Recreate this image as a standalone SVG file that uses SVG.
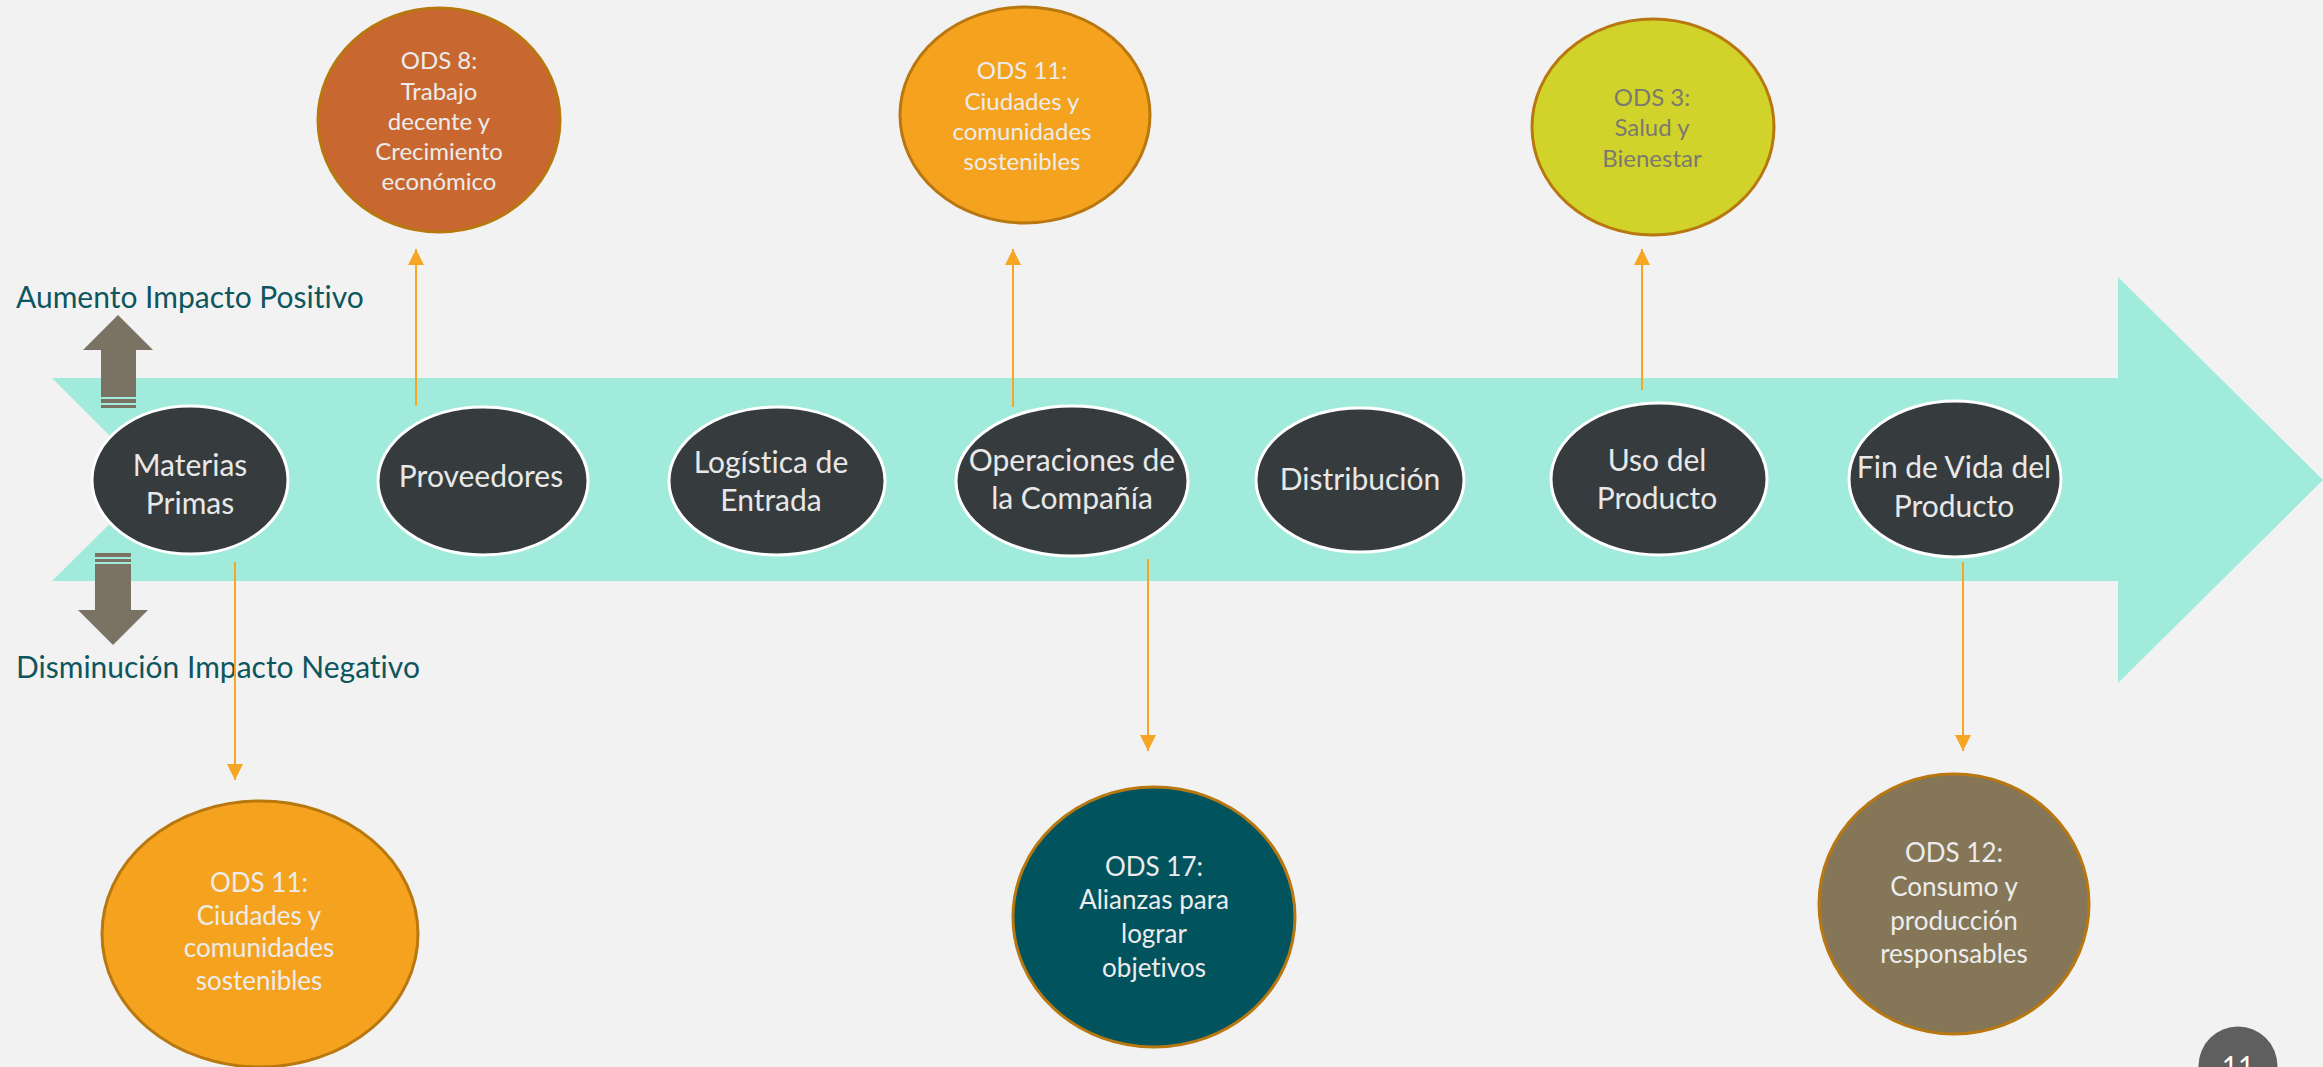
<svg xmlns="http://www.w3.org/2000/svg" width="2323" height="1067" viewBox="0 0 2323 1067">
<defs>
<style>
text{font-variant-ligatures:none;font-feature-settings:"liga" 0,"clig" 0}
.bg{fill:#f2f2f2}
.band{fill:#a1ebdc}
.step{fill:#363c3e;stroke:#ffffff;stroke-width:3}
.stept{fill:#e8e8e8;font-family:Lato,"Open Sans",sans-serif;font-size:30px;text-anchor:middle}
.ods{stroke:#b8770f;stroke-width:3}
.odst{fill:#ececec;font-family:Lato,"Open Sans",sans-serif;font-size:24px;text-anchor:middle}
.odsb{fill:#ececec;font-family:Lato,"Open Sans",sans-serif;font-size:26px;text-anchor:middle}
.lbl{fill:#0d5660;font-family:Lato,"Open Sans",sans-serif;font-size:30px}
.gray{fill:#7a7364}
.conn{stroke:#f5a623;stroke-width:2;fill:none}
</style>
<marker id="ah" viewBox="0 0 16 16" refX="16" refY="8" markerWidth="16" markerHeight="16" markerUnits="userSpaceOnUse" orient="auto">
<path d="M0,0 L16,8 L0,16 Z" fill="#f5a623"/>
</marker>
</defs>
<rect class="bg" x="0" y="0" width="2323" height="1067"/>
<g id="band">
<path class="band" d="M52,378 L2118,378 L2118,277 L2323,480 L2118,683 L2118,581 L52,581 L154,480 Z"/>
</g>
<g id="impact-up">
<path class="gray" d="M118,315 L153,350 L136,350 L136,397 L101,397 L101,350 L83,350 Z"/>
<rect class="gray" x="101" y="399" width="35" height="4"/>
<rect class="gray" x="101" y="405" width="35" height="3"/>
<text class="lbl" x="16" y="308">Aumento Impacto Positivo</text>
</g>
<g id="impact-down">
<rect class="gray" x="95" y="553" width="36" height="4"/>
<rect class="gray" x="95" y="559" width="36" height="3"/>
<path class="gray" d="M95,564 L131,564 L131,610 L148,610 L113,645 L78,610 L95,610 Z"/>
<text class="lbl" x="16" y="678">Disminución Impacto Negativo</text>
</g>
<g id="connectors">
<line class="conn" x1="416" y1="406" x2="416" y2="249" marker-end="url(#ah)"/>
<line class="conn" x1="1013" y1="407" x2="1013" y2="249" marker-end="url(#ah)"/>
<line class="conn" x1="1642" y1="390" x2="1642" y2="249" marker-end="url(#ah)"/>
<line class="conn" x1="235" y1="562" x2="235" y2="780" marker-end="url(#ah)"/>
<line class="conn" x1="1148" y1="559" x2="1148" y2="751" marker-end="url(#ah)"/>
<line class="conn" x1="1963" y1="562" x2="1963" y2="751" marker-end="url(#ah)"/>
</g>
<g id="materias-primas">
<ellipse class="step" cx="190" cy="480" rx="98" ry="74"/>
<text class="stept" x="190" y="476">Materias</text>
<text class="stept" x="190" y="514">Primas</text>
</g>
<g id="proveedores">
<ellipse class="step" cx="483" cy="481" rx="105" ry="74"/>
<text class="stept" x="481" y="487">Proveedores</text>
</g>
<g id="logistica-entrada">
<ellipse class="step" cx="777" cy="481" rx="108" ry="74"/>
<text class="stept" x="771" y="473">Logística de</text>
<text class="stept" x="771" y="511">Entrada</text>
</g>
<g id="operaciones">
<ellipse class="step" cx="1072" cy="481" rx="116" ry="75"/>
<text class="stept" x="1072" y="471">Operaciones de</text>
<text class="stept" x="1072" y="509">la Compañía</text>
</g>
<g id="distribucion">
<ellipse class="step" cx="1360" cy="480" rx="104" ry="72"/>
<text class="stept" x="1360" y="490">Distribución</text>
</g>
<g id="uso-producto">
<ellipse class="step" cx="1659" cy="479" rx="108" ry="76"/>
<text class="stept" x="1657" y="471">Uso del</text>
<text class="stept" x="1657" y="509">Producto</text>
</g>
<g id="fin-vida">
<ellipse class="step" cx="1955" cy="479" rx="106" ry="78"/>
<text class="stept" x="1954" y="478">Fin de Vida del</text>
<text class="stept" x="1954" y="517">Producto</text>
</g>
<g id="ods8">
<ellipse class="ods" cx="439" cy="120" rx="121" ry="112" fill="#c86830"/>
<text class="odst" x="439" y="69">ODS 8:</text>
<text class="odst" x="439" y="100">Trabajo</text>
<text class="odst" x="439" y="130">decente y</text>
<text class="odst" x="439" y="160">Crecimiento</text>
<text class="odst" x="439" y="190">económico</text>
</g>
<g id="ods11-top">
<ellipse class="ods" cx="1025" cy="115" rx="125" ry="108" fill="#f5a31f"/>
<text class="odst" x="1022" y="79">ODS 11:</text>
<text class="odst" x="1022" y="110">Ciudades y</text>
<text class="odst" x="1022" y="140">comunidades</text>
<text class="odst" x="1022" y="170">sostenibles</text>
</g>
<g id="ods3">
<ellipse class="ods" cx="1653" cy="127" rx="121" ry="108" fill="#d1d32a"/>
<text class="odst" x="1652" y="106" style="fill:#7a7a70">ODS 3:</text>
<text class="odst" x="1652" y="136" style="fill:#7a7a70">Salud y</text>
<text class="odst" x="1652" y="167" style="fill:#7a7a70">Bienestar</text>
</g>
<g id="ods11-bottom">
<ellipse class="ods" cx="260" cy="934" rx="158" ry="133" fill="#f5a31f"/>
<text class="odsb" x="259" y="892">ODS 11:</text>
<text class="odsb" x="259" y="925">Ciudades y</text>
<text class="odsb" x="259" y="957">comunidades</text>
<text class="odsb" x="259" y="990">sostenibles</text>
</g>
<g id="ods17">
<ellipse class="ods" cx="1154" cy="917" rx="141" ry="130" fill="#01535e"/>
<text class="odsb" x="1154" y="876">ODS 17:</text>
<text class="odsb" x="1154" y="909">Alianzas para</text>
<text class="odsb" x="1154" y="943">lograr</text>
<text class="odsb" x="1154" y="977">objetivos</text>
</g>
<g id="ods12">
<ellipse class="ods" cx="1954" cy="904" rx="135" ry="130" fill="#857658"/>
<text class="odsb" x="1954" y="862">ODS 12:</text>
<text class="odsb" x="1954" y="896">Consumo y</text>
<text class="odsb" x="1954" y="930">producción</text>
<text class="odsb" x="1954" y="963">responsables</text>
</g>
<g id="page-number">
<circle cx="2238" cy="1066" r="39.5" fill="#5f5f5f"/>
<text x="2238" y="1077" fill="#ffffff" font-family="Lato, 'Open Sans', sans-serif" font-size="28" text-anchor="middle">11</text>
</g>
</svg>
